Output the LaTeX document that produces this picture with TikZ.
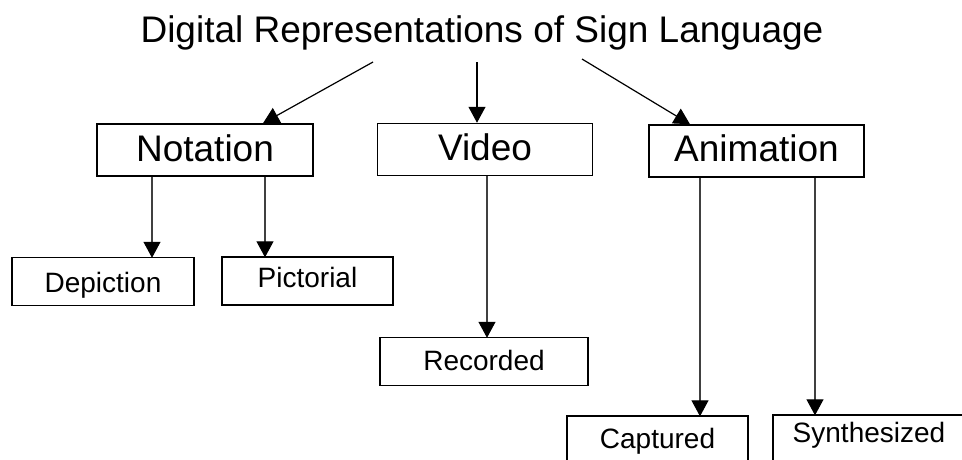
\documentclass[tikz,border=0pt]{standalone}
\usepackage{fontspec}
\setmainfont{Liberation Sans}
\usetikzlibrary{arrows.meta,calc}
\begin{document}
\begin{tikzpicture}[x=1pt,y=-1pt,
  bigbox/.style={draw=black,line width=1.5pt,minimum width=#1,minimum height=52pt,inner sep=0pt,text depth=0pt,font=\fontsize{37}{40}\selectfont},
  smallbox/.style={draw=black,line width=1.4pt,minimum width=#1,minimum height=48pt,inner sep=0pt,text depth=0pt,font=\fontsize{28}{32}\selectfont},
  tip/.style={-{Triangle[width=17pt,length=16pt,color=black,fill=black]}},
  toparr/.style={draw=black,line width=1.2pt,tip},
  subarr/.style={draw=black!75,line width=1.1pt,tip}]
\useasboundingbox (0,0) rectangle (962,459);
\clip (0,0) rectangle (962,459);
\fill[white] (0,0) rectangle (962,459);
\node[anchor=base,font=\fontsize{37}{40}\selectfont,inner sep=0pt] (title) at (482,42) {Digital Representations of Sign Language};
\node[bigbox=216pt,text height=22pt] (notation) at (205,150) {Notation};
\node[bigbox=215pt,text height=21pt] (video) at (485,149.5) {Video};
\node[bigbox=215pt,text height=20pt] (animation) at (756.5,151) {Animation};
\node[smallbox=182pt,text height=21pt] (depiction) at (103,281.5) {Depiction};
\node[smallbox=171pt,text height=12pt] (pictorial) at (307.5,281) {Pictorial};
\node[smallbox=208pt,text height=17pt] (recorded) at (484,361.5) {Recorded};
\node[smallbox=181pt,text height=16pt] (captured) at (657.5,440) {Captured};
\node[smallbox=192pt,text height=6pt] (synth) at (869,439) {Synthesized};
\coordinate (tl) at (373,62);
\coordinate (tc) at (477,62);
\coordinate (tr) at (582,59);
\draw[toparr] (tl) -- ([xshift=58pt]notation.north);
\draw[toparr] (tc) -- ([xshift=-8pt]video.north);
\draw[toparr] (tr) -- ([xshift=-66.5pt]animation.north);
\draw[subarr] ([xshift=-53pt]notation.south) -- ([xshift=-53pt,yshift=-1pt]notation.south |- depiction.north);
\draw[subarr] ([xshift=60pt]notation.south) -- ([xshift=60pt,yshift=-1pt]notation.south |- pictorial.north);
\draw[subarr] ([xshift=2pt]video.south) -- ([xshift=2pt,yshift=-1pt]video.south |- recorded.north);
\draw[subarr] ([xshift=-56.5pt]animation.south) -- ([xshift=-56.5pt,yshift=-1pt]animation.south |- captured.north);
\draw[subarr] ([xshift=58.5pt]animation.south) -- ([xshift=58.5pt,yshift=-1pt]animation.south |- synth.north);
\end{tikzpicture}
\end{document}
